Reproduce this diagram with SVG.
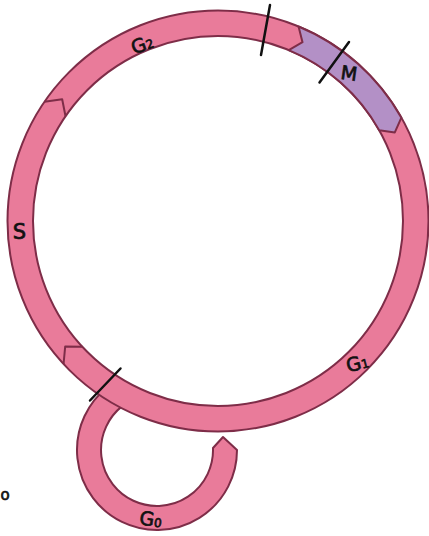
<svg xmlns="http://www.w3.org/2000/svg" width="429" height="536" viewBox="0 0 429 536">
<style>
.band{fill:#E97B9A;stroke:#7E2D48;stroke-width:2;stroke-linejoin:round}
.ringband{fill:none;stroke:#E97B9A;stroke-width:25.5}
.edge{fill:none;stroke:#7E2D48;stroke-width:2}
.purple{fill:#B390C6;stroke:#7E2D48;stroke-width:2;stroke-linejoin:round}
.chev{fill:none;stroke:#7E2D48;stroke-width:2;stroke-linejoin:round}
.tick{stroke:#111;stroke-width:2.5;stroke-linecap:round}
.lbl{font-family:"DejaVu Sans",sans-serif;fill:#111;stroke:#111;stroke-width:0.7;text-anchor:middle}
</style>
<rect width="429" height="536" fill="#fff"/>
<g id="phase-G0">
<path class="band" d="M107.7,387 A80,80 0 1 0 237,450 L223,437 L213,448 A56,56 0 1 1 122.5,405.9 Z"/>
<text class="lbl" x="151" y="526" font-size="19" transform="rotate(8 151 518)">G<tspan font-size="12">0</tspan></text>
</g>
<g id="cycle-ring">
<circle class="ringband" cx="218" cy="221" r="197.75"/>
<circle class="edge" cx="218" cy="221" r="210.5"/>
<circle class="edge" cx="218" cy="221" r="185"/>
</g>
<g id="phase-M">
<path class="purple" d="M298.55,26.52 A210.5,210.5 0 0 1 401.39,117.67 L394.82,132.46 L379.17,130.18 A185,185 0 0 0 288.8,50.08 L302.51,42.22 Z"/>
<text class="lbl" x="349" y="80" font-size="19" transform="rotate(8 349 73)">M</text>
</g>
<g id="phase-S">
<text class="lbl" x="19.5" y="239" font-size="21">S</text>
</g>
<g id="phase-G2">
<text class="lbl" x="142" y="51" font-size="19" transform="rotate(-20 142 44)">G<tspan font-size="12">2</tspan></text>
</g>
<g id="phase-G1">
<text class="lbl" x="357" y="370" font-size="19" transform="rotate(-15 357 362)">G<tspan font-size="12">1</tspan></text>
</g>
<g id="connectors">
<polyline class="chev" points="44.52,101.77 62.17,99.26 65.54,116.21"/>
<polyline class="chev" points="63.55,364.02 65.19,346.51 82.26,346.7"/>
<line class="tick" x1="270" y1="5" x2="261" y2="55"/>
<line class="tick" x1="349" y1="42" x2="319.5" y2="82.5"/>
<line class="tick" x1="120.5" y1="368.5" x2="90" y2="400.5"/>
</g>
<text class="lbl" x="5" y="500" font-size="15">o</text>
</svg>
